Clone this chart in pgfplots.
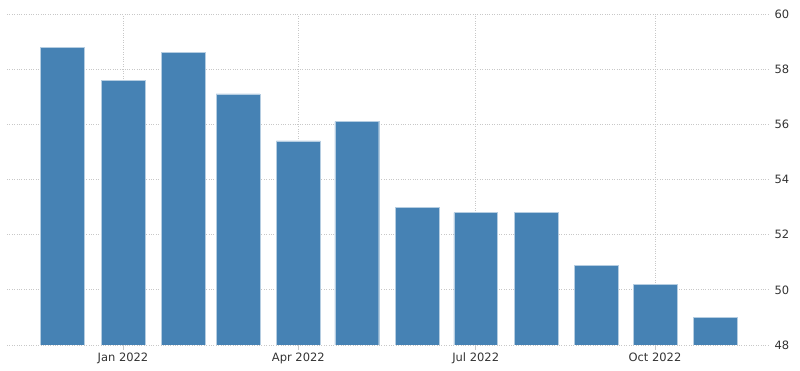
\documentclass[border=0pt]{standalone}
\usepackage{fontspec}
\setmainfont{DejaVu Sans}
\usepackage{pgfplots}
\pgfplotsset{compat=1.18}
\definecolor{barblue}{RGB}{70,130,180}
\definecolor{gridgray}{RGB}{200,200,200}
\definecolor{labgray}{RGB}{51,51,51}
\begin{document}
\begin{tikzpicture}
\path (-7pt,-26pt) rectangle (793pt,345pt);
\begin{axis}[
  at={(0pt,0pt)}, anchor=south west,
  scale only axis, width=761pt, height=331pt,
  xmin=-28.5, xmax=362, ymin=48, ymax=60,
  axis line style={draw=none},
  xtick={31,121,212,304},
  xticklabels={Jan 2022,Apr 2022,Jul 2022,Oct 2022},
  xtick pos=bottom, tick align=outside,
  x tick style={gridgray, line width=0.6pt}, major tick length=5pt,
  ytick={48,50,...,60},
  ytick pos=right, yticklabel pos=right,
  y tick style={draw=none},
  grid=major,
  major grid style={gridgray, dotted, line width=0.7pt},
  tick label style={font=\fontsize{11.5}{13}\selectfont, text=labgray},
  /pgf/number format/assume math mode=true,
  yticklabel style={xshift=-2pt},
  xticklabel style={yshift=1pt},
  clip=true,
]
\addplot[ybar, bar width=22.5, bar shift=0pt, fill=barblue, draw=barblue!40!white, line width=0.4pt]
coordinates {
(0,58.8) (31,57.6) (62,58.6) (90,57.1) (121,55.4) (151,56.1)
(182,53.0) (212,52.8) (243,52.8) (274,50.9) (304,50.2) (335,49.0)
};
\end{axis}
\end{tikzpicture}
\end{document}
